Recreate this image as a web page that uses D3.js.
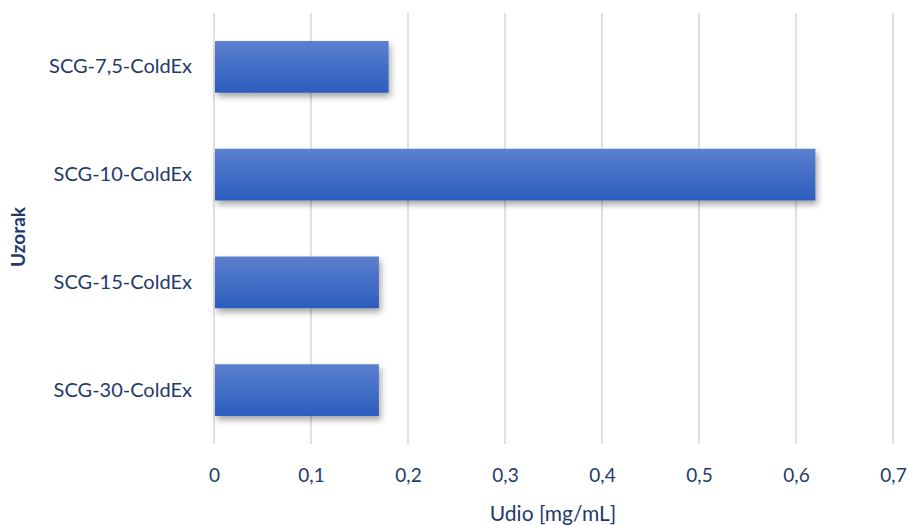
<!DOCTYPE html>
<html>
<head>
<meta charset="utf-8">
<title>Udio</title>
<script src="https://d3js.org/d3.v7.min.js"></script>
<style>
	body { margin: 0; background: #fff; }
	text { font-family: Lato, 'Open Sans', sans-serif; fill: #1f3a6b; }
	.grid line { stroke: #d9d9d9; stroke-width: 1.6px; }
</style>
</head>
<body>
<script>
// data
var samples = ["SCG-7,5-ColdEx", "SCG-10-ColdEx", "SCG-15-ColdEx", "SCG-30-ColdEx"];
var udio = [0.18, 0.62, 0.17, 0.17];
var xTicks = [0, 0.1, 0.2, 0.3, 0.4, 0.5, 0.6, 0.7];

var W = 911, H = 525;
var margin = {top: 13, right: 18, bottom: 81, left: 214};
var width = 893 - margin.left,
	height = H - margin.top - margin.bottom;

var svg = d3.select("body").append("svg")
	.attr("width", W).attr("height", H);

var defs = svg.append("defs");
var grad = defs.append("linearGradient")
	.attr("id", "barGrad").attr("x1", 0).attr("y1", 0).attr("x2", 0).attr("y2", 1);
grad.append("stop").attr("offset", "0%").attr("stop-color", "#5b80cf");
grad.append("stop").attr("offset", "100%").attr("stop-color", "#2c5dbd");

var shadow = defs.append("filter").attr("id", "shadow")
	.attr("x", "-5%").attr("y", "-20%").attr("width", "115%").attr("height", "160%");
shadow.append("feDropShadow")
	.attr("dx", 2).attr("dy", 4).attr("stdDeviation", 3)
	.attr("flood-color", "#000").attr("flood-opacity", 0.35);

var g = svg.append("g").attr("transform", "translate(" + margin.left + "," + margin.top + ")");

var x = d3.scaleLinear().domain([0, 0.7]).range([0, width]);
var y = d3.scaleBand().domain(samples).range([0, height]).paddingInner(0.52).paddingOuter(0.26);

// vertical gridlines
g.append("g").attr("class", "grid")
	.selectAll("line").data(xTicks).enter().append("line")
	.attr("x1", function(d) { return x(d); })
	.attr("x2", function(d) { return x(d); })
	.attr("y1", 0).attr("y2", height);

// bars
g.append("g").selectAll("rect").data(udio).enter().append("rect")
	.attr("x", x(0) + 1)
	.attr("y", function(d, i) { return y(samples[i]); })
	.attr("width", function(d) { return x(d) - x(0) - 1; })
	.attr("height", y.bandwidth())
	.attr("fill", "url(#barGrad)")
	.attr("filter", "url(#shadow)");

// x axis labels
var xAxis = g.append("g").attr("transform", "translate(0," + height + ")")
	.call(d3.axisBottom(x).tickValues(xTicks).tickSize(0).tickPadding(25)
		.tickFormat(function(d) { return d3.format(".1~f")(d).replace(".", ","); }));
xAxis.select(".domain").remove();
xAxis.selectAll("text").style("font-size", "19px");

// y axis labels
var yAxis = g.append("g")
	.call(d3.axisLeft(y).tickSize(0).tickPadding(22));
yAxis.select(".domain").remove();
yAxis.selectAll("text").style("font-size", "20px");

svg.selectAll(".tick text").attr("fill", "#1f3a6b").style("font-family", "Lato, 'Open Sans', sans-serif");

// axis titles
svg.append("text")
	.attr("x", 553).attr("y", 521)
	.attr("text-anchor", "middle")
	.style("font-size", "21px")
	.text("Udio [mg/mL]");

svg.append("text")
	.attr("transform", "translate(25,237) rotate(-90)")
	.attr("text-anchor", "middle")
	.style("font-size", "19px")
	.style("font-weight", "bold")
	.text("Uzorak");
</script>
</body>
</html>
